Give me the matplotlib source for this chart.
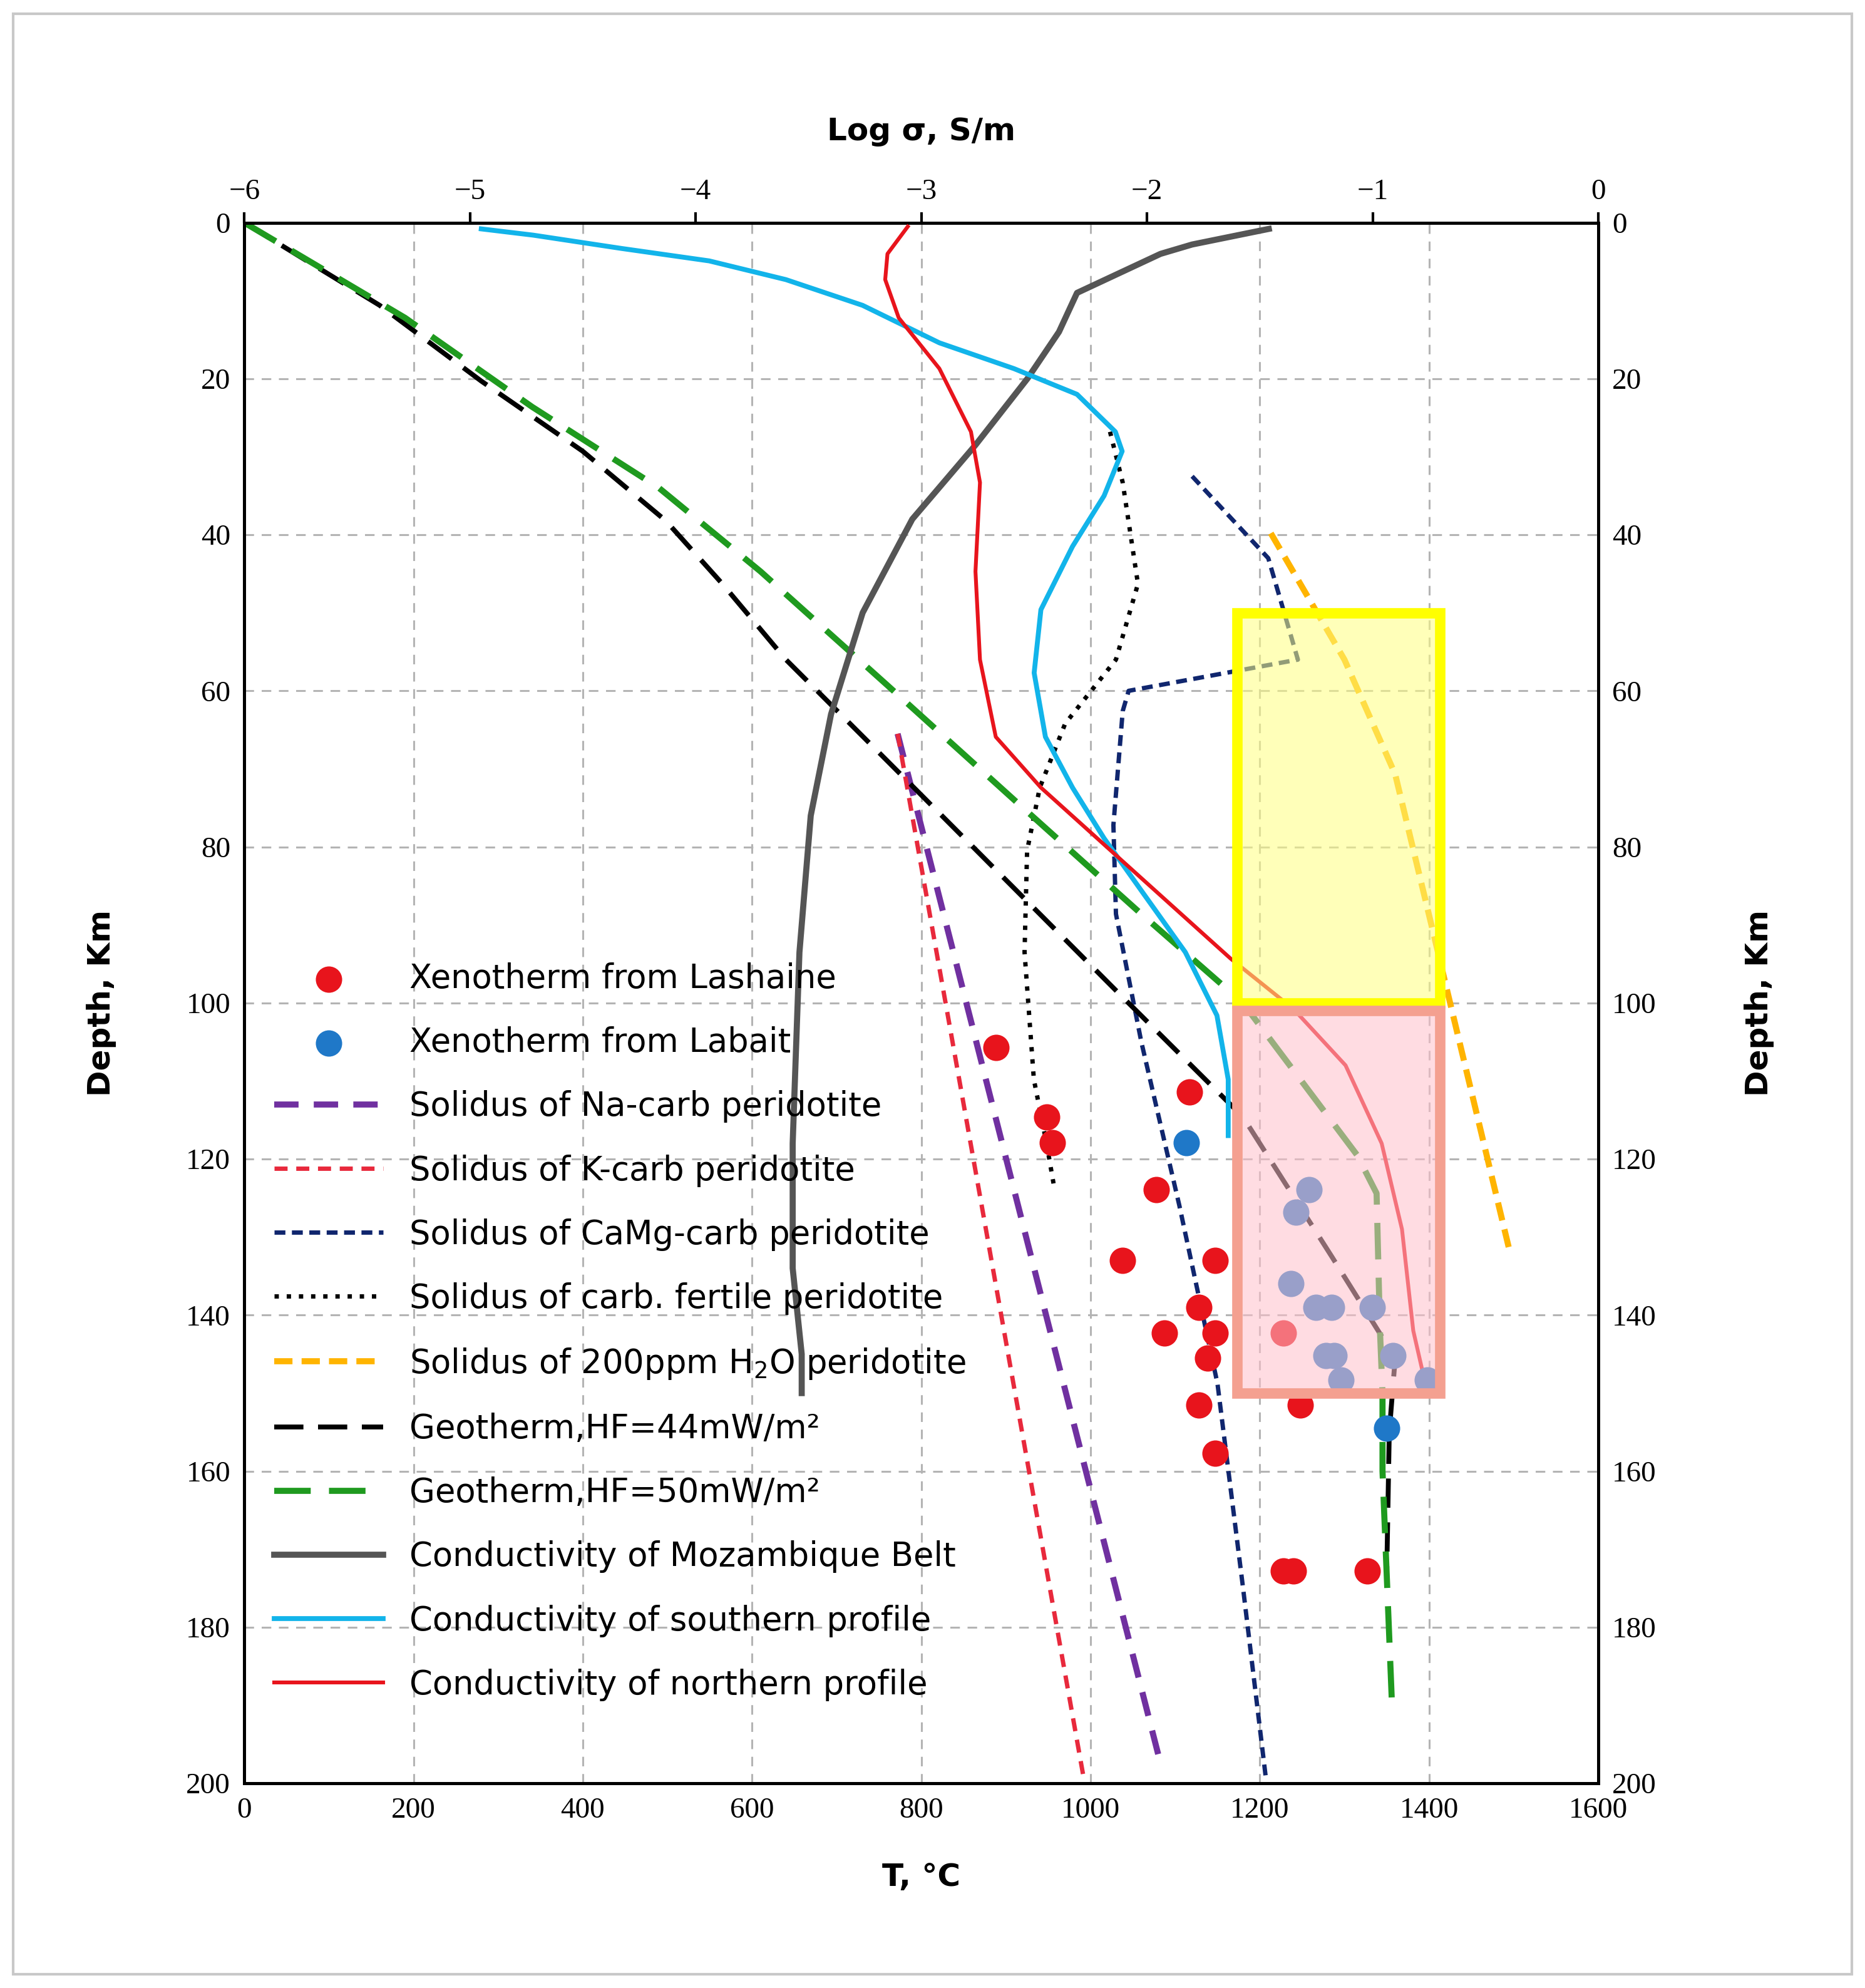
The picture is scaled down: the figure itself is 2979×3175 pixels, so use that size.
import matplotlib
matplotlib.use("Agg")
import matplotlib.pyplot as plt
from matplotlib.patches import Rectangle

# ---- data: temperature curves (T degC, depth km) ----
GEO44_T = [0, 160, 280, 400, 498, 565, 640, 760, 895, 1030, 1180, 1285, 1360, 1353, 1350]
GEO44_D = [0, 10.6, 20.3, 29.3, 38.2, 46.3, 56, 69, 83.7, 98.4, 114.6, 132.5, 145.5, 155, 173]
GEO50_T = [0, 190, 340, 490, 610, 760, 910, 1060, 1180, 1315, 1338, 1342, 1345, 1345, 1356]
GEO50_D = [0, 12.2, 23.6, 34, 44.7, 59.3, 74, 88.6, 100, 119.5, 124.4, 142, 150, 160, 189.4]
NA_T = [772, 1083]
NA_D = [65.5, 197.6]
K_T = [772, 993]
K_D = [65.5, 200]
CAMG_T = [1120, 1210, 1245, 1045, 1038, 1027, 1030, 1060, 1105, 1150, 1180, 1207]
CAMG_D = [32.5, 43, 56, 60, 62.6, 77.2, 88.6, 105, 126, 148.8, 174.8, 199.2]
FERT_T = [1023, 1038, 1056, 1030, 970, 940, 925, 922, 933, 948, 957]
FERT_D = [26.8, 33.3, 46.3, 56, 64.2, 72.4, 80.5, 93.5, 109.8, 118, 123.6]
H2O_T = [1213, 1300, 1360, 1405, 1495]
H2O_D = [39.8, 56, 70.7, 91, 131.7]

LASH_T = [888, 1117, 948, 955, 1078, 1038, 1147, 1128, 1087, 1147, 1138, 1128, 1248, 1147, 1228, 1240, 1327, 1228]
LASH_D = [105.7, 111.4, 114.6, 117.9, 123.9, 133, 133, 139, 142.3, 142.3, 145.5, 151.5, 151.5, 157.7, 172.8, 172.8, 172.8, 142.3]
LAB_T = [1113, 1258, 1243, 1237, 1266, 1285, 1333, 1278, 1288, 1296, 1357, 1350, 1398]
LAB_D = [117.9, 123.9, 126.8, 136, 139, 139, 139, 145.2, 145.2, 148.3, 145.2, 154.5, 148.3]

# ---- data: conductivity curves (log sigma, depth km) ----
MOZ_S = [-1.46, -1.80, -1.94, -2.31, -2.39, -2.53, -2.76, -3.04, -3.26, -3.40, -3.49, -3.54, -3.57, -3.57, -3.53, -3.53]
MOZ_D = [0.8, 2.8, 4, 9, 14, 20, 28.5, 38, 50, 63, 76, 93.5, 118, 134, 145, 150]
SOU_S = [-4.95, -4.72, -4.33, -3.94, -3.60, -3.26, -2.92, -2.59, -2.31, -2.14, -2.11, -2.19, -2.33, -2.47,
         -2.50, -2.45, -2.33, -2.19, -2.03, -1.83, -1.69, -1.64, -1.64]
SOU_D = [0.8, 1.6, 3.3, 4.9, 7.3, 10.6, 15.4, 18.7, 22, 26.8, 29.3, 35, 41.5, 49.6, 57.7, 65.9, 72.4,
         78.9, 85.4, 93.5, 101.6, 109.8, 117]
NOR_S = [-3.06, -3.15, -3.16, -3.10, -2.92, -2.78, -2.74, -2.76, -2.74, -2.67, -2.47, -2.19, -1.91,
         -1.63, -1.35, -1.12, -0.96, -0.87, -0.82, -0.76]
NOR_D = [0.5, 4, 7.3, 12.2, 18.7, 26.8, 33.3, 44.7, 56, 65.9, 72.4, 79.7, 87, 94.3, 100.8, 108, 118,
         129, 142, 149.6]

# shaded zones (T range, depth range)
YELLOW_BOX = (1173, 1413, 50, 100)
PINK_BOX = (1173, 1413, 101, 150)

TICK = {"family": "Liberation Serif", "size": 17}
plt.rcParams["font.family"] = "DejaVu Sans"

fig = plt.figure(figsize=(14.895, 15.875), dpi=200)
fig.patches.append(Rectangle((0.007, 0.007), 0.986, 0.986, transform=fig.transFigure,
                             fill=False, ec="#c8c8c8", lw=1.5))
ax = fig.add_axes([0.131, 0.103, 0.726, 0.785])
ax.set_xlim(0, 1600)
ax.set_ylim(200, 0)
ax.set_xticks(range(0, 1601, 200))
ax.set_yticks(range(0, 201, 20))
ax.grid(True, ls=(0, (5, 4)), color="#b4b4b4", lw=1.1)
for s in ax.spines.values():
    s.set_linewidth(1.8)
ax.tick_params(direction="in", length=0, pad=8, right=True, labelright=True)
for lab in ax.get_xticklabels() + ax.get_yticklabels():
    lab.set_fontfamily(TICK["family"]); lab.set_fontsize(TICK["size"])
ax.set_xlabel("T, \u00b0C", fontsize=18, fontweight="bold", labelpad=22)
ax.set_ylabel("Depth, Km", fontsize=18, fontweight="bold", labelpad=40)
sec = ax.secondary_yaxis("right")
sec.set_yticks([])
sec.spines["right"].set_visible(False)
sec.set_ylabel("Depth, Km", fontsize=18, fontweight="bold", labelpad=84)

ax2 = ax.twiny()
ax2.set_xlim(-6, 0)
ax2.set_xticks(range(-6, 1))
ax2.set_xticklabels(["\u22126", "\u22125", "\u22124", "\u22123", "\u22122", "\u22121", "0"],
                    fontfamily=TICK["family"], fontsize=TICK["size"])
ax2.tick_params(direction="out", length=6, width=1.5, pad=4)
ax2.set_xlabel("Log \u03c3, S/m", fontsize=18, fontweight="bold", labelpad=22)

h = {}
h["na"], = ax.plot(NA_T, NA_D, color="#7030a0", lw=3.5, ls=(0, (4, 2.5)))
h["k"], = ax.plot(K_T, K_D, color="#e8293c", lw=2.5, ls=(0, (3, 2)))
h["camg"], = ax.plot(CAMG_T, CAMG_D, color="#10266e", lw=2.5, ls=(0, (2.5, 1.5)))
h["fert"], = ax.plot(FERT_T, FERT_D, color="black", lw=2.5, ls=(0, (1, 1.8)))
h["h2o"], = ax.plot(H2O_T, H2O_D, color="#ffb400", lw=3.5, ls=(0, (3, 1.5)))
h["g44"], = ax.plot(GEO44_T, GEO44_D, color="black", lw=2.8, ls=(0, (6, 3)))
h["g50"], = ax.plot(GEO50_T, GEO50_D, color="#1f9a1f", lw=3.5, ls=(0, (6, 3)))
h["moz"], = ax2.plot(MOZ_S, MOZ_D, color="#555555", lw=3.5)
h["sou"], = ax2.plot(SOU_S, SOU_D, color="#12b4ea", lw=2.8)
h["nor"], = ax2.plot(NOR_S, NOR_D, color="#e8141c", lw=2.2)
h["lash"] = ax2.scatter([], [], s=200, color="#e8141c")
h["lab"] = ax2.scatter([], [], s=200, color="#1f78c8")
ax2.scatter([-6 + t / 1600 * 6 for t in LASH_T], LASH_D, s=200, color="#e8141c", zorder=4)
ax2.scatter([-6 + t / 1600 * 6 for t in LAB_T], LAB_D, s=200, color="#1f78c8", zorder=4)

for (t0, t1, d0, d1), fc, ec in [(YELLOW_BOX, "#ffff80", "#ffff00"), (PINK_BOX, "#ffc0cb", "#f4a090")]:
    ax2.add_patch(Rectangle((-6 + t0 / 1600 * 6, d0), (t1 - t0) / 1600 * 6, d1 - d0,
                            fc=fc, ec="none", alpha=0.55, zorder=5))
    ax2.add_patch(Rectangle((-6 + t0 / 1600 * 6, d0), (t1 - t0) / 1600 * 6, d1 - d0,
                            fill=False, ec=ec, lw=6, zorder=6))

order = ["lash", "lab", "na", "k", "camg", "fert", "h2o", "g44", "g50", "moz", "sou", "nor"]
labels = ["Xenotherm from Lashaine", "Xenotherm from Labait", "Solidus of Na-carb peridotite",
          "Solidus of K-carb peridotite", "Solidus of CaMg-carb peridotite",
          "Solidus of carb. fertile peridotite", "Solidus of 200ppm H$_2$O peridotite",
          "Geotherm,HF=44mW/m\u00b2", "Geotherm,HF=50mW/m\u00b2", "Conductivity of Mozambique Belt",
          "Conductivity of southern profile", "Conductivity of northern profile"]
ax2.legend([h[k] for k in order], labels, loc="upper left", bbox_to_anchor=(0.0, 0.545),
           frameon=False, fontsize=19, handlelength=3.3, labelspacing=0.95, borderaxespad=0.5)

fig.savefig("out.png", dpi=200)
